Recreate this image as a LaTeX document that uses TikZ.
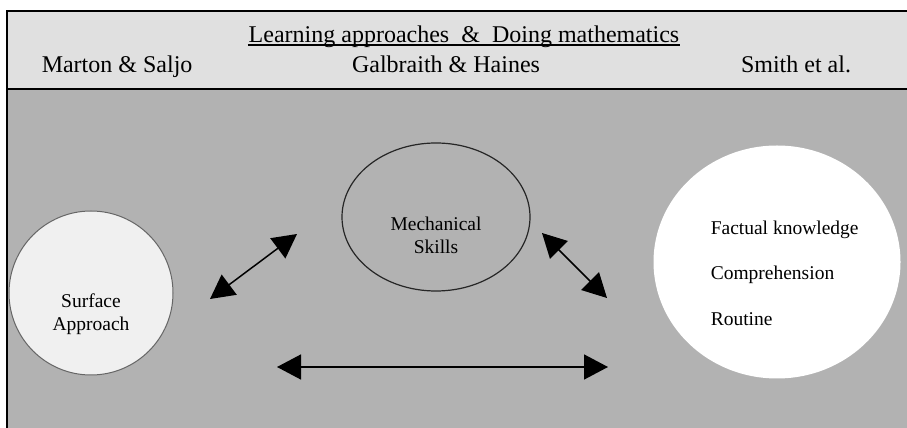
\documentclass[tikz,border=0pt]{standalone}
\usepackage{fontspec}
\setmainfont{Liberation Serif}
\usepackage{tikz}
\usetikzlibrary{positioning}
\usetikzlibrary{shapes.geometric,arrows.meta}

\definecolor{bodygray}{gray}{0.70}
\definecolor{headgray}{gray}{0.88}
\definecolor{pale}{gray}{0.94}

\begin{document}
\begin{tikzpicture}[x=1pt,y=1pt,line width=1.5pt,>={Triangle[length=24pt,width=25pt]},auto]
    \tikzset{head/.style={font=\fontsize{24}{28}\selectfont,inner sep=0pt}}
    \tikzset{idea/.style={font=\fontsize{19.5}{23}\selectfont,align=center,inner sep=0pt}}
    \tikzset{blob/.style={ellipse,inner sep=0pt}}
    \useasboundingbox (0,0) rectangle (907,428);
    % panels
    \fill[headgray] (7,339) rectangle (907,417);
    \fill[bodygray] (7,0) rectangle (907,339);
    \draw[line width=2pt] (907,417) -- (7,417) -- (7,0);
    \draw[line width=2pt] (7,339) -- (907,339);
    % header
    \node[head,anchor=base] (title) at (464,385) {Learning approaches\ \ \&\ \ Doing mathematics};
    \draw[line width=1.2pt] ([yshift=-2pt]title.base west) -- ([yshift=-2pt]title.base east);
    \node[head,anchor=base west] (marton) at (41,355) {Marton \& Saljo};
    \node[head,anchor=base] (galbraith) at (446,355) {Galbraith \& Haines};
    \node[head,anchor=base] (smith) at (796,355) {Smith et al.};
    % bubbles
    \node[blob,circle,draw=black!60,line width=1pt,fill=pale,minimum size=164pt] (surface) at (91,135) {};
    \node[idea] (surfacetext) at ([yshift=-21pt]surface.center) {Surface\\Approach};
    \node[blob,draw=black!85,line width=1.2pt,minimum width=188pt,minimum height=148pt] (skills) at (436,211) {};
    \node[idea] (skillstext) at ([yshift=-18pt]skills.center) {Mechanical\\Skills};
    \node[blob,fill=white,minimum width=247pt,minimum height=233pt] (levels) at (777,166) {};
    \node[idea,anchor=base west] (factual) at (710,193) {Factual knowledge};
    \node[idea,anchor=base west] (comprehension) at (710,148) {Comprehension};
    \node[idea,anchor=base west] (routine) at (710,102) {Routine};
    % arrows
    \coordinate (a1) at (210,129);
    \coordinate (b1) at (297,194);
    \coordinate (a2) at (542,195);
    \coordinate (b2) at (607,130);
    \coordinate (a3) at (277,61);
    \coordinate (b3) at (608,61);
    \path[<->]
    (a1) edge (b1)
    (a2) edge (b2)
    (a3) edge (b3)
    ;
\end{tikzpicture}
\end{document}
